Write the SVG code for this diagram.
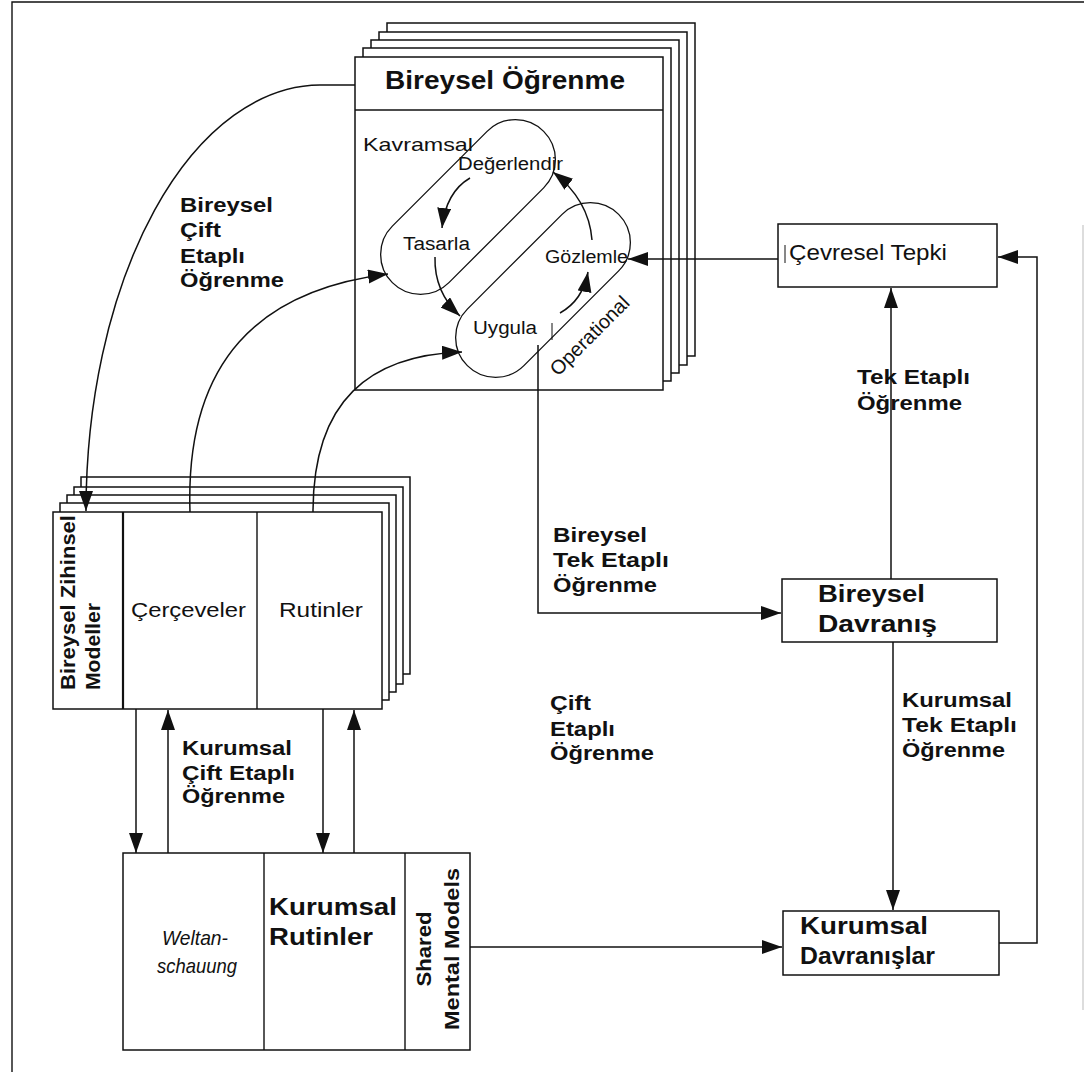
<svg xmlns="http://www.w3.org/2000/svg" width="1086" height="1072" viewBox="0 0 1086 1072">
<defs>
<marker id="ah" markerUnits="userSpaceOnUse" markerWidth="22" markerHeight="16" refX="20" refY="7" orient="auto"><path d="M0,0 L20,7 L0,14 z" fill="#111"/></marker>
</defs>
<style>
.box{fill:#fff;stroke:#111;stroke-width:1.5}
.ln{fill:none;stroke:#111;stroke-width:1.4}
.arr{fill:none;stroke:#111;stroke-width:1.5;marker-end:url(#ah)}
.st{fill:none;stroke:#111;stroke-width:1.3}
text{font-family:"Liberation Sans",Arial,sans-serif;fill:#111}
.b{font-weight:bold}
.lb{font-size:20px;font-weight:bold}
.r{font-size:18px}
.i{font-style:italic;font-size:21px}
</style>
<rect x="0" y="0" width="1086" height="1072" fill="#fff"/>
<g id="page-border">
<path class="ln" d="M12 1072 V2 H1084"/>
<path d="M1083 225 V1010" fill="none" stroke="#bbb" stroke-width="1"/>
</g>

<g id="bireysel-ogrenme">
<rect class="box" x="387" y="23" width="308" height="333"/>
<rect class="box" x="379" y="32" width="308" height="333"/>
<rect class="box" x="371" y="40" width="308" height="333"/>
<rect class="box" x="363" y="48" width="308" height="333"/>
<rect class="box" x="355" y="57" width="308" height="333"/>
<path class="ln" d="M355 110 H663"/>
<text class="b" x="385" y="89" font-size="25" textLength="240" lengthAdjust="spacingAndGlyphs">Bireysel Öğrenme</text>
<rect class="st" x="361" y="167" width="214" height="80" rx="40" transform="rotate(-45 468 207)"/>
<rect class="st" x="436" y="250" width="214" height="80" rx="40" transform="rotate(-45 543 290)"/>
<text x="363" y="151" font-size="19" textLength="110" lengthAdjust="spacingAndGlyphs">Kavramsal</text>
<text class="r" x="458" y="170" textLength="105" lengthAdjust="spacingAndGlyphs">Değerlendir</text>
<text class="r" x="403" y="250" textLength="67" lengthAdjust="spacingAndGlyphs">Tasarla</text>
<text class="r" x="545" y="263" textLength="83" lengthAdjust="spacingAndGlyphs">Gözlemle</text>
<text class="r" x="473" y="334" textLength="64" lengthAdjust="spacingAndGlyphs">Uygula</text>
<text x="558" y="377" font-size="20" textLength="103" lengthAdjust="spacingAndGlyphs" transform="rotate(-45 558 377)">Operational</text>
<path d="M552 323 V340" fill="none" stroke="#111" stroke-width="1"/>
</g>

<g id="bireysel-zihinsel-modeller">
<rect class="box" x="81" y="477" width="329" height="197"/>
<rect class="box" x="74" y="487" width="329" height="197"/>
<rect class="box" x="67" y="495" width="329" height="197"/>
<rect class="box" x="60" y="503" width="329" height="197"/>
<rect class="box" x="53" y="512" width="329" height="197"/>
<path d="M123 512 V709" fill="none" stroke="#111" stroke-width="2.2"/>
<path class="ln" d="M257 512 V709"/>
<text class="b" font-size="20" transform="translate(75 690) rotate(-90)" textLength="175" lengthAdjust="spacingAndGlyphs">Bireysel Zihinsel</text>
<text class="b" font-size="20" transform="translate(100 690) rotate(-90)" textLength="87" lengthAdjust="spacingAndGlyphs">Modeller</text>
<text x="131" y="617" font-size="21" textLength="115" lengthAdjust="spacingAndGlyphs">Çerçeveler</text>
<text x="279" y="617" font-size="21" textLength="84" lengthAdjust="spacingAndGlyphs">Rutinler</text>
</g>

<g id="kurumsal-zihinsel-modeller">
<rect class="box" x="123" y="853" width="347" height="197"/>
<path class="ln" d="M264 853 V1050 M405 853 V1050"/>
<text class="i" x="162" y="945" textLength="66" lengthAdjust="spacingAndGlyphs">Weltan-</text>
<text class="i" x="157" y="973" textLength="80" lengthAdjust="spacingAndGlyphs">schauung</text>
<text class="b" x="269" y="915" font-size="23" textLength="128" lengthAdjust="spacingAndGlyphs">Kurumsal</text>
<text class="b" x="269" y="945" font-size="23" textLength="104" lengthAdjust="spacingAndGlyphs">Rutinler</text>
<text class="b" font-size="21" text-anchor="middle" transform="translate(431 949) rotate(-90)" textLength="75" lengthAdjust="spacingAndGlyphs">Shared</text>
<text class="b" font-size="21" text-anchor="middle" transform="translate(459 949) rotate(-90)" textLength="162" lengthAdjust="spacingAndGlyphs">Mental Models</text>
</g>

<g id="cevresel-tepki">
<rect class="box" x="778" y="224" width="219" height="63" stroke-width="2"/>
<path d="M785 245 V263" fill="none" stroke="#111" stroke-width="1"/>
<text x="789" y="260" font-size="22" textLength="158" lengthAdjust="spacingAndGlyphs">Çevresel Tepki</text>
</g>

<g id="bireysel-davranis">
<rect class="box" x="782" y="579" width="215" height="63" stroke-width="2"/>
<text class="b" x="818" y="602" font-size="23" textLength="107" lengthAdjust="spacingAndGlyphs">Bireysel</text>
<text class="b" x="818" y="632" font-size="23" textLength="119" lengthAdjust="spacingAndGlyphs">Davranış</text>
</g>

<g id="kurumsal-davranislar">
<rect class="box" x="783" y="911" width="216" height="64" stroke-width="2"/>
<text class="b" x="800" y="934" font-size="23" textLength="128" lengthAdjust="spacingAndGlyphs">Kurumsal</text>
<text class="b" x="800" y="964" font-size="23" textLength="135" lengthAdjust="spacingAndGlyphs">Davranışlar</text>
</g>

<g id="connectors">
<path class="arr" d="M355 85 H320 A235 426 0 0 0 86 511"/>
<path class="arr" d="M190 512 C185 360 260 290 388 274"/>
<path class="arr" d="M313 512 C313 400 370 355 462 352"/>
<path class="arr" d="M470 178 Q446 192 442 228"/>
<path class="arr" d="M435 257 Q434 292 460 316"/>
<path class="arr" d="M560 313 Q583 300 588 272"/>
<path class="arr" d="M592 240 Q589 200 553 172"/>
<path class="arr" d="M778 259 H628"/>
<path class="arr" d="M538 345 V613 H781"/>
<path class="arr" d="M891 579 V288"/>
<path class="arr" d="M893 642 V910"/>
<path class="arr" d="M999 943 H1037 V257 H998"/>
<path class="arr" d="M470 947 H782"/>
<path class="arr" d="M136 709 V853"/>
<path class="arr" d="M168 853 V710"/>
<path class="arr" d="M323 709 V853"/>
<path class="arr" d="M354 853 V710"/>
</g>

<g id="labels">
<text class="lb" x="180" y="212" textLength="93" lengthAdjust="spacingAndGlyphs">Bireysel</text>
<text class="lb" x="180" y="237" textLength="41" lengthAdjust="spacingAndGlyphs">Çift</text>
<text class="lb" x="180" y="263" textLength="65" lengthAdjust="spacingAndGlyphs">Etaplı</text>
<text class="lb" x="180" y="287" textLength="104" lengthAdjust="spacingAndGlyphs">Öğrenme</text>

<text class="lb" x="182" y="755" textLength="110" lengthAdjust="spacingAndGlyphs">Kurumsal</text>
<text class="lb" x="182" y="780" textLength="113" lengthAdjust="spacingAndGlyphs">Çift Etaplı</text>
<text class="lb" x="182" y="803" textLength="103" lengthAdjust="spacingAndGlyphs">Öğrenme</text>

<text class="lb" x="553" y="542" textLength="94" lengthAdjust="spacingAndGlyphs">Bireysel</text>
<text class="lb" x="553" y="567" textLength="116" lengthAdjust="spacingAndGlyphs">Tek Etaplı</text>
<text class="lb" x="553" y="592" textLength="104" lengthAdjust="spacingAndGlyphs">Öğrenme</text>

<text class="lb" x="550" y="710" textLength="41" lengthAdjust="spacingAndGlyphs">Çift</text>
<text class="lb" x="550" y="736" textLength="65" lengthAdjust="spacingAndGlyphs">Etaplı</text>
<text class="lb" x="550" y="760" textLength="104" lengthAdjust="spacingAndGlyphs">Öğrenme</text>

<text class="lb" x="857" y="384" textLength="113" lengthAdjust="spacingAndGlyphs">Tek Etaplı</text>
<text class="lb" x="857" y="410" textLength="105" lengthAdjust="spacingAndGlyphs">Öğrenme</text>

<text class="lb" x="902" y="707" textLength="110" lengthAdjust="spacingAndGlyphs">Kurumsal</text>
<text class="lb" x="902" y="732" textLength="115" lengthAdjust="spacingAndGlyphs">Tek Etaplı</text>
<text class="lb" x="902" y="757" textLength="103" lengthAdjust="spacingAndGlyphs">Öğrenme</text>
</g>
</svg>
